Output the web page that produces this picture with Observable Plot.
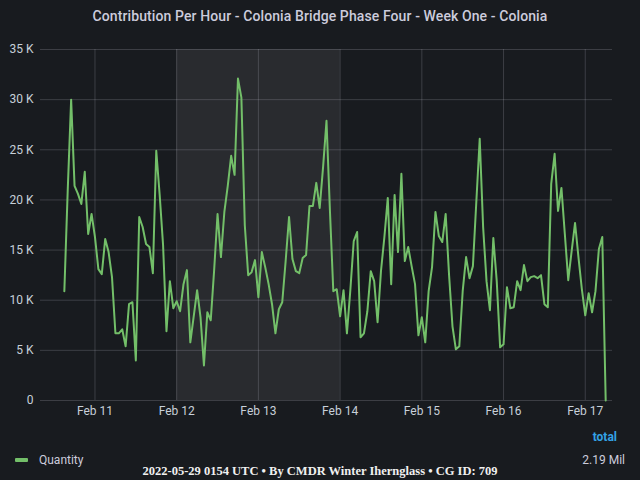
<!DOCTYPE html>
<html>
<head>
<meta charset="utf-8">
<script src="https://cdn.jsdelivr.net/npm/d3@7"></script>
<script src="https://cdn.jsdelivr.net/npm/@observablehq/plot@0.6"></script>
<style>
  html, body { margin: 0; padding: 0; background: #181b1f; }
  body { width: 640px; height: 480px; position: relative; overflow: hidden; font-family: Roboto, sans-serif; }
  #title { height: 34px; line-height: 32px; text-align: center; color: #ccccdc; font-size: 14px; font-weight: 500; letter-spacing: 0.1px; }
  #chart svg { display: block; }
  .abs { position: absolute; white-space: nowrap; }
</style>
</head>
<body>
<div id="title"></div>
<div id="chart"></div>
<div class="abs" id="legswatch" style="left:15px; top:458px; width:13px; height:4px; background:#73bf69; border-radius:1px;"></div>
<div class="abs" id="legname" style="left:39px; top:452px; font-size:12px; color:#ccccdc; line-height:16px;"></div>
<div class="abs" id="legtotalhead" style="right:23px; top:429px; font-size:12px; font-weight:700; color:#33a2e5; line-height:16px;"></div>
<div class="abs" id="legtotal" style="right:15px; top:452px; font-size:12px; color:#ccccdc; line-height:16px;"></div>
<div class="abs" id="caption" style="left:0; width:640px; top:463px; text-align:center; font-family:'Liberation Serif', serif; font-weight:700; font-size:12.5px; color:#f0f0f0; line-height:16px;"></div>
<script>
// ---- data ----
const titleText = "Contribution Per Hour - Colonia Bridge Phase Four - Week One - Colonia";
const seriesName = "Quantity";
const totalHeader = "total";
const totalLabel = "2.19 Mil";
const captionText = "2022-05-29 0154 UTC • By CMDR Winter Ihernglass • CG ID: 709";

const firstHour = "2022-02-10T15:00:00Z"; // first hourly sample
// hourly quantity, in thousands
const quantityK = [
  10.9, 21.0, 30.0, 21.4, 20.6, 19.6, 22.8, 16.6, 18.6, 16.3,
  13.1, 12.6, 16.1, 14.8, 12.3, 6.7, 6.7, 7.1, 5.4, 9.6,
  9.8, 4.0, 18.3, 17.3, 15.6, 15.3, 12.7, 24.9, 20.5, 15.5,
  6.9, 11.9, 9.2, 9.9, 8.9, 11.6, 13.0, 5.8, 8.4, 11.0,
  8.3, 3.5, 8.8, 8.0, 13.0, 18.6, 14.3, 18.8, 21.4, 24.4,
  22.5, 32.1, 30.2, 17.5, 12.5, 12.8, 14.0, 10.3, 14.8, 13.3,
  11.6, 9.6, 6.7, 9.1, 9.8, 13.9, 18.3, 14.1, 12.9, 12.7,
  14.2, 14.5, 19.4, 19.4, 21.7, 19.2, 23.3, 27.9, 19.0, 10.9,
  11.1, 8.4, 11.0, 6.7, 11.0, 15.9, 16.8, 6.3, 6.7, 8.9,
  12.9, 11.9, 7.8, 12.9, 16.3, 20.2, 11.6, 20.5, 14.8, 22.6,
  13.9, 15.3, 13.4, 11.6, 6.5, 8.3, 5.8, 10.9, 13.3, 18.8,
  16.4, 15.8, 18.6, 12.5, 7.4, 5.1, 5.4, 10.9, 14.3, 12.2,
  13.4, 19.8, 26.1, 17.3, 11.9, 9.0, 16.2, 11.9, 5.3, 5.6,
  11.3, 9.2, 9.3, 11.9, 11.0, 13.5, 11.9, 12.3, 12.4, 12.2,
  12.5, 9.6, 9.3, 21.6, 24.6, 18.9, 21.2, 16.6, 12.0, 14.9,
  17.7, 14.3, 11.1, 8.5, 10.7, 8.8, 10.9, 15.1, 16.3, 0
];
const xDomain = ["2022-02-10T08:00:00Z", "2022-02-17T08:00:00Z"];
const xTickDates = ["2022-02-11", "2022-02-12", "2022-02-13", "2022-02-14", "2022-02-15", "2022-02-16", "2022-02-17"];
const yTicks = [0, 5, 10, 15, 20, 25, 30, 35];
const shadedRange = ["2022-02-12", "2022-02-14"];

// ---- build ----
document.getElementById("title").textContent = titleText;
document.getElementById("legname").textContent = seriesName;
document.getElementById("legtotalhead").textContent = totalHeader;
document.getElementById("legtotal").textContent = totalLabel;
document.getElementById("caption").textContent = captionText;

const t0 = new Date(firstHour).getTime();
const rows = quantityK.map((v, i) => ({ time: new Date(t0 + i * 3600e3), value: v }));
const xTicks = xTickDates.map(d => new Date(d + "T00:00:00Z"));
const shade = [{ x1: new Date(shadedRange[0] + "T00:00:00Z"), x2: new Date(shadedRange[1] + "T00:00:00Z") }];

const gridColor = "#ccccdc";
const chart = Plot.plot({
  width: 640,
  height: 390,
  marginTop: 15,
  marginBottom: 24,
  marginLeft: 40,
  marginRight: 28,
  style: { background: "transparent", color: "#c7d0d9", fontFamily: "Roboto, sans-serif", fontSize: "12px" },
  x: { type: "utc", domain: xDomain.map(d => new Date(d)) },
  y: { domain: [0, 35] },
  marks: [
    Plot.rect(shade, { x1: "x1", x2: "x2", y1: 0, y2: 35, fill: "#ffffff", fillOpacity: 0.075 }),
    Plot.gridY(yTicks, { stroke: gridColor, strokeOpacity: 0.2, strokeWidth: 1 }),
    Plot.gridX(xTicks, { stroke: gridColor, strokeOpacity: 0.2, strokeWidth: 1 }),
    Plot.axisY(yTicks, { tickSize: 0, tickPadding: 7, label: null, tickFormat: d => d === 0 ? "0" : d + " K" }),
    Plot.axisX(xTicks, { tickSize: 0, tickPadding: 6, label: null, tickFormat: d3.utcFormat("%b %d") }),
    Plot.line(rows, { x: "time", y: "value", stroke: "#73bf69", strokeWidth: 2 })
  ]
});
document.getElementById("chart").appendChild(chart);
</script>
</body>
</html>
